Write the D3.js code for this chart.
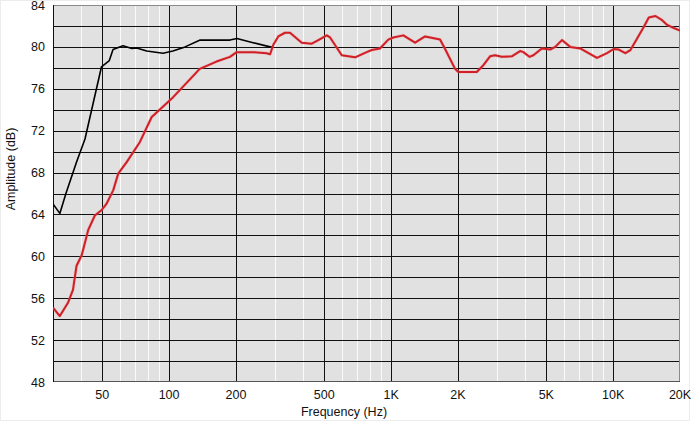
<!DOCTYPE html>
<html><head><meta charset="utf-8">
<script src="https://cdn.jsdelivr.net/npm/d3@7"></script>
<style>
html,body{margin:0;padding:0;background:#fff;}
svg{display:block;}
text{font-family:"Liberation Sans",Arial,sans-serif;font-size:12.5px;fill:#111;}
</style></head><body>
<svg id="c" width="691" height="423"></svg>
<script>
// Data (frequency in Hz, amplitude in dB)
const blackFreq = [30, 32.2, 34.3, 38.3, 41.8, 49.6, 53.8, 55.9, 62, 67.9, 71.5, 79.3, 93.9, 104, 118, 138, 188, 202, 239, 285, 294];
const blackDb   = [65.0, 64.1, 66.0, 69.0, 71.2, 78.1, 78.7, 79.75, 80.1, 79.85, 79.9, 79.6, 79.4, 79.6, 80.0, 80.65, 80.65, 80.8, 80.4, 80.0, 80.0];

const redFreq = [30, 32.2, 35.1, 36.9, 38.3, 40.4, 43.2, 46.3, 49.6, 52.2, 56.0, 59.0, 64.4, 73.8, 83.5, 94.0, 104.3, 115.6, 137.4, 163.5, 188, 201.6, 239, 275, 285, 294.7, 310.3, 332.6, 350.4, 395.8, 438.9, 470.2, 513, 530.9, 599.2, 688, 776, 818, 891, 971, 1023, 1135, 1282, 1422, 1661, 1750, 1941, 2009, 2117, 2429, 2603, 2789, 2938, 3149, 3494, 3809, 3942, 4195, 4373, 4771, 5205, 5484, 5879, 6406, 7106, 7748, 8455, 9380, 10050, 10590, 11350, 11960, 12820, 13730, 14470, 15510, 16620, 17510, 18760, 19770, 20000];
const redDb   = [55.1, 54.3, 55.6, 56.8, 59.1, 60.1, 62.5, 63.9, 64.4, 65.0, 66.3, 67.9, 69.0, 70.9, 73.3, 74.3, 75.2, 76.2, 77.9, 78.6, 79.05, 79.5, 79.5, 79.4, 79.3, 80.2, 81.0, 81.35, 81.35, 80.4, 80.3, 80.65, 81.1, 80.9, 79.2, 79.0, 79.5, 79.7, 79.85, 80.7, 80.9, 81.1, 80.4, 81.0, 80.7, 79.8, 77.9, 77.6, 77.6, 77.6, 78.25, 79.1, 79.2, 79.05, 79.1, 79.6, 79.5, 79.05, 79.2, 79.85, 79.75, 80.0, 80.65, 80.0, 79.85, 79.4, 78.95, 79.4, 79.8, 79.75, 79.4, 79.7, 80.8, 81.9, 82.8, 82.95, 82.55, 82.1, 81.8, 81.6, 81.55];

const xMajorTicks = [50, 100, 200, 500, 1000, 2000, 5000, 10000, 20000];
const xTickLabels = ["50", "100", "200", "500", "1K", "2K", "5K", "10K", "20K"];
const xMinorTicks = [40, 60, 70, 80, 90, 300, 400, 600, 700, 800, 900, 3000, 4000, 6000, 7000, 8000, 9000];
const yTicks = [48, 52, 56, 60, 64, 68, 72, 76, 80, 84];
const yGrid = [50, 52, 54, 56, 58, 60, 62, 64, 66, 68, 70, 72, 74, 76, 78, 80, 82];

const L = 53, R = 680, T = 5, B = 382;
const svg = d3.select("#c");
const x = d3.scaleLog().domain([30, 20000]).range([L, R]);
const y = d3.scaleLinear().domain([48, 84]).range([B, T]);

// page frame
svg.append("rect").attr("x", 0.5).attr("y", 0.5).attr("width", 689).attr("height", 420)
  .attr("fill", "#fff").attr("stroke", "#ececec");

// plot background
svg.append("rect").attr("x", L).attr("y", T).attr("width", R - L).attr("height", B - T).attr("fill", "#e1e1e1");

// minor vertical grid (white)
svg.append("g").selectAll("line").data(xMinorTicks).join("line")
  .attr("x1", d => Math.round(x(d)) + 0.5).attr("x2", d => Math.round(x(d)) + 0.5)
  .attr("y1", T).attr("y2", B).attr("stroke", "#fafafa").attr("stroke-width", 1);

// horizontal grid (black)
svg.append("g").selectAll("line").data(yGrid).join("line")
  .attr("x1", L).attr("x2", R)
  .attr("y1", d => Math.round(y(d)) + 0.5).attr("y2", d => Math.round(y(d)) + 0.5)
  .attr("stroke", "#111").attr("stroke-width", 1);

// major vertical grid (black)
svg.append("g").selectAll("line").data(xMajorTicks.filter(d => d < 20000)).join("line")
  .attr("x1", d => Math.round(x(d)) + 0.5).attr("x2", d => Math.round(x(d)) + 0.5)
  .attr("y1", T).attr("y2", B).attr("stroke", "#111").attr("stroke-width", 1);

// frame
svg.append("line").attr("x1", L).attr("x2", R).attr("y1", T + 0.5).attr("y2", T + 0.5).attr("stroke", "#8a8a8a");
svg.append("line").attr("x1", R - 0.5).attr("x2", R - 0.5).attr("y1", T).attr("y2", B).attr("stroke", "#8a8a8a");
svg.append("line").attr("x1", L).attr("x2", R).attr("y1", B - 0.5).attr("y2", B - 0.5).attr("stroke", "#555");
svg.append("line").attr("x1", L + 0.5).attr("x2", L + 0.5).attr("y1", T).attr("y2", B).attr("stroke", "#111");

// curves
const line = d3.line().curve(d3.curveLinear);
const redPts = redFreq.map((f, i) => [x(f), y(redDb[i])]);
const blackPts = blackFreq.map((f, i) => [x(f), y(blackDb[i])]);
svg.append("clipPath").attr("id", "pc").append("rect")
  .attr("x", L).attr("y", T).attr("width", R - L).attr("height", B - T);
svg.append("path").attr("d", line(blackPts)).attr("fill", "none").attr("stroke", "#000")
  .attr("stroke-width", 1.6).attr("stroke-linejoin", "round").attr("clip-path", "url(#pc)");
svg.append("path").attr("d", line(redPts)).attr("fill", "none").attr("stroke", "#f08a8a")
  .attr("stroke-width", 3.2).attr("stroke-opacity", 0.35).attr("stroke-linejoin", "round").attr("clip-path", "url(#pc)");
svg.append("path").attr("d", line(redPts)).attr("fill", "none").attr("stroke", "#d01f26")
  .attr("stroke-width", 2).attr("stroke-linejoin", "round").attr("clip-path", "url(#pc)");

// y tick labels
svg.append("g").selectAll("text").data(yTicks).join("text")
  .attr("x", 45).attr("y", d => y(d) + 4.5).attr("text-anchor", "end").text(d => d);

// x tick labels
svg.append("g").selectAll("text").data(xMajorTicks).join("text")
  .attr("x", d => x(d)).attr("y", 399).attr("text-anchor", "middle").text((d, i) => xTickLabels[i]);

// axis titles
svg.append("text").attr("x", 344).attr("y", 416).attr("text-anchor", "middle").text("Frequency (Hz)");
svg.append("text").attr("transform", "translate(15,169) rotate(-90)").attr("text-anchor", "middle").text("Amplitude (dB)");
</script></body></html>
